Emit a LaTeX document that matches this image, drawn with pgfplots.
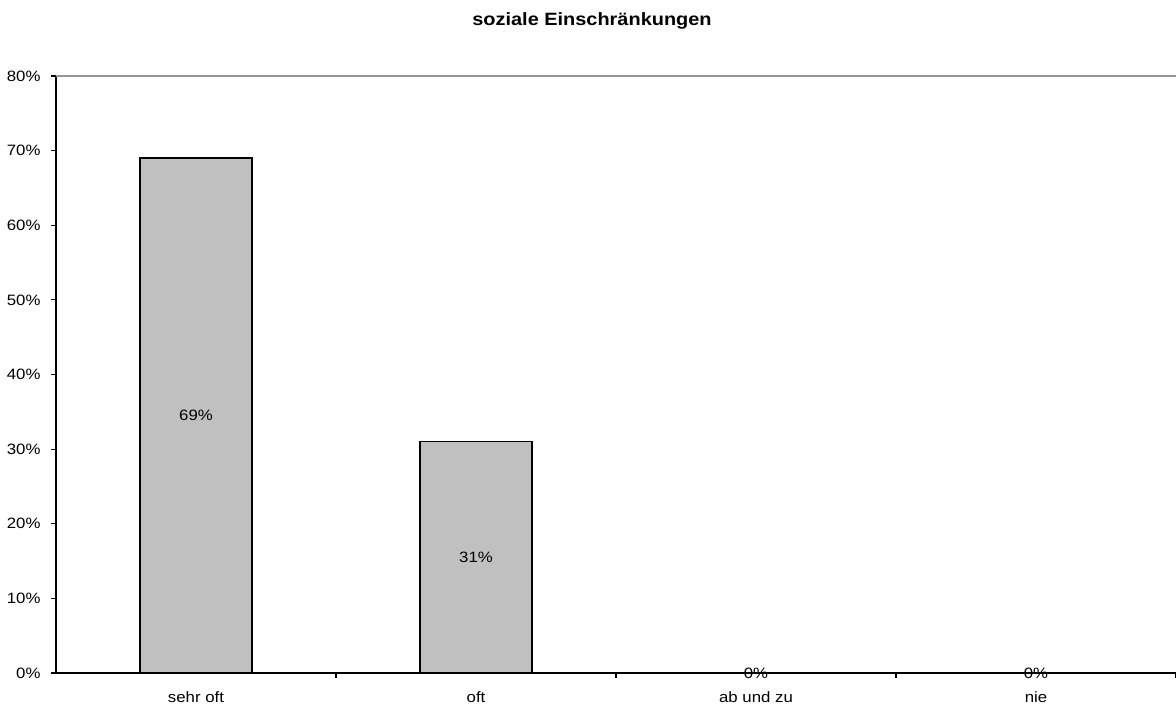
\documentclass[border=0pt]{standalone}
\usepackage{fontspec}
\setmainfont[FakeStretch=1.12]{Liberation Sans}
\usepackage{pgfplots}
\usepackage{pgfplotstable}
\pgfplotsset{compat=1.18}

\definecolor{barfill}{RGB}{192,192,192}
\definecolor{topline}{RGB}{150,150,150}

% answer shares per category (percent)
\pgfplotstableread{
x v
0 69
1 31
2 0
3 0
}\datatable
% label height: middle of each bar
\pgfplotstablecreatecol[expr={\thisrow{v}/2}]{half}\datatable

\begin{document}
\begin{tikzpicture}
\useasboundingbox (0,0) rectangle (1176pt,708pt);
\node[font=\fontsize{17.8}{20}\selectfont\bfseries] at (592pt,687pt) {soziale Einschränkungen};
\begin{axis}[
  at={(56pt,35pt)}, anchor=south west,
  scale only axis, width=1120pt, height=597pt,
  xmin=-0.5, xmax=3.5, ymin=0, ymax=80,
  axis x line*=bottom, axis y line*=left,
  axis line style={black, line width=1.1pt, -},
  /pgf/number format/assume math mode=true,
  tick label style={font=\fontsize{15}{17}\selectfont, black},
  ytick={0,10,...,80},
  yticklabel={\pgfmathprintnumber{\tick}\%},
  xtick={0,1,2,3},
  xticklabels={sehr oft, oft, ab und zu, nie},
  minor xtick={0.5,1.5,2.5,3.5},
  major x tick style={draw=none},
  tick style={black, line width=1.1pt},
  tick align=outside,
  major tick length=5pt, minor tick length=5pt,
  xticklabel style={yshift=-10pt},
  yticklabel style={xshift=-7pt},
  clip=false,
]
\draw[topline, line width=1.2pt] (rel axis cs:0,1) -- (rel axis cs:1,1);
\addplot[ybar, bar width=112pt, fill=barfill, draw=black, line width=1.2pt]
  table[x=x, y=v] {\datatable};
\addplot[draw=none, point meta=explicit,
  nodes near coords={\pgfmathprintnumber{\pgfplotspointmeta}\%},
  nodes near coords style={anchor=center, font=\fontsize{15}{17}\selectfont}]
  table[x=x, y=half, meta=v] {\datatable};
\end{axis}
\end{tikzpicture}
\end{document}
